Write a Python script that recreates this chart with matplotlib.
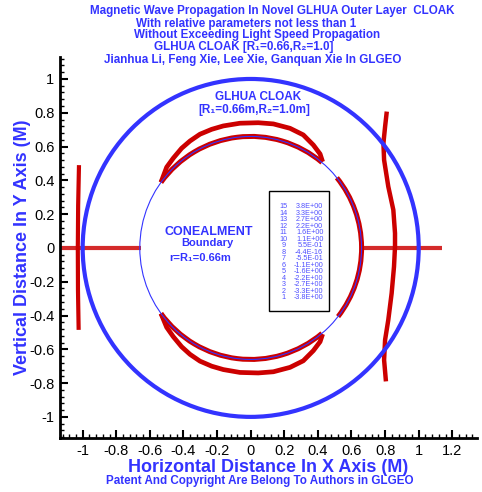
import numpy as np
import matplotlib
matplotlib.use("Agg")
import matplotlib.pyplot as plt
from matplotlib.patches import Arc, Rectangle, Circle
from matplotlib.ticker import MultipleLocator

plt.rcParams['font.family'] = ['Liberation Sans', 'DejaVu Sans']

# geometry of the cloak (m)
R1 = 0.66
R2 = 1.0

# red wave-front pieces lying on the inner boundary (degrees)
arc_starts = [50, 216, -38]
arc_ends = [144, 310, 39]

# bulging wave fronts above / below the concealment
top_bulge_x = [-0.534, -0.500, -0.461, -0.411, -0.361, -0.302, -0.232, -0.163,
               -0.064, 0.045, 0.135, 0.234, 0.313, 0.373, 0.413, 0.428]
top_bulge_y = [0.388, 0.478, 0.531, 0.590, 0.633, 0.673, 0.702, 0.722,
               0.738, 0.741, 0.734, 0.708, 0.669, 0.609, 0.556, 0.510]
bot_bulge_x = [-0.534, -0.500, -0.461, -0.411, -0.361, -0.302, -0.232, -0.163,
               -0.064, 0.045, 0.135, 0.234, 0.313, 0.373, 0.413, 0.428]
bot_bulge_y = [-0.388, -0.470, -0.525, -0.585, -0.630, -0.670, -0.700, -0.720,
               -0.737, -0.740, -0.733, -0.707, -0.668, -0.608, -0.555, -0.510]

# front outside the cloak on the right
right_wave_x = [0.810, 0.800, 0.790, 0.794, 0.819, 0.849, 0.859, 0.859,
                0.853, 0.839, 0.819, 0.800, 0.794, 0.805]
right_wave_y = [0.807, 0.718, 0.620, 0.521, 0.363, 0.225, 0.087, 0.008,
                -0.111, -0.268, -0.426, -0.544, -0.663, -0.79]

# incoming front on the left
left_wave_x = [-1.022, -1.027, -1.029, -1.028, -1.024]
left_wave_y = [0.49, 0.25, 0.0, -0.25, -0.485]

# horizontal rays along y = 0
left_ray_x = [-1.135, -0.65]
right_ray_x = [0.67, 1.14]

# contour legend
levels = list(range(15, 0, -1))
level_vals = ['3.8E+00', '3.3E+00', '2.7E+00', '2.2E+00', '1.6E+00', '1.1E+00',
              '5.5E-01', '-4.4E-16', '-5.5E-01', '-1.1E+00', '-1.6E+00',
              '-2.2E+00', '-2.7E+00', '-3.3E+00', '-3.8E+00']

xticks = [-1, -0.8, -0.6, -0.4, -0.2, 0, 0.2, 0.4, 0.6, 0.8, 1, 1.2]
yticks = [-1, -0.8, -0.6, -0.4, -0.2, 0, 0.2, 0.4, 0.6, 0.8, 1]

title_lines = [
    "Magnetic Wave Propagation In Novel GLHUA Outer Layer  CLOAK",
    "With relative parameters not less than 1",
    "Without Exceeding Light Speed Propagation",
    "GLHUA CLOAK [R\u2081=0.66,R\u2082=1.0]",
    "Jianhua Li, Feng Xie, Lee Xie, Ganquan Xie In GLGEO",
]
# baseline positions in pixels
title_pos = [(272, 14), (246, 26.5), (257, 38), (244, 50), (253, 62.5)]

BLUE = '#3333ff'
RED = '#cc0000'
W, H = 482, 492

fig = plt.figure(figsize=(W / 100, H / 100), dpi=100)
ax = fig.add_axes([60 / W, 1 - 438 / H, 417 / W, 381 / H])
ax.set_xlim(-1.135, 1.347)
ax.set_ylim(-1.125, 1.13)

# rays and fronts
ax.plot(left_ray_x, [0, 0], color='#d42a2a', lw=3.0, solid_capstyle='butt', zorder=2)
ax.plot(right_ray_x, [0, 0], color='#d42a2a', lw=3.0, solid_capstyle='butt', zorder=2)
ax.plot(left_wave_x, left_wave_y, color=RED, lw=3.0, solid_capstyle='butt', zorder=3)
ax.plot(right_wave_x, right_wave_y, color=RED, lw=3.2, solid_capstyle='butt',
        solid_joinstyle='round', zorder=3)
ax.plot(top_bulge_x, top_bulge_y, color=RED, lw=3.4, solid_capstyle='butt',
        solid_joinstyle='round', zorder=3)
ax.plot(bot_bulge_x, bot_bulge_y, color=RED, lw=3.4, solid_capstyle='butt',
        solid_joinstyle='round', zorder=3)
for t1, t2 in zip(arc_starts, arc_ends):
    ax.add_patch(Arc((0, 0), 2 * R1, 2 * R1, theta1=t1, theta2=t2,
                     color=RED, lw=3.6, zorder=3))

# cloak boundaries
ax.add_patch(Circle((0, 0), R2, fill=False, ec=BLUE, lw=3.0, zorder=4))
ax.add_patch(Circle((0, 0), R1, fill=False, ec=BLUE, lw=0.8, zorder=4))

# legend box
bx, by, bw, bh = 0.109, -0.373, 0.357, 0.71
ax.add_patch(Rectangle((bx + 0.008, by - 0.008), bw, bh, fc='#999999', ec='none', zorder=5))
ax.add_patch(Rectangle((bx, by), bw, bh, fc='white', ec='black', lw=1.0, zorder=6))
ytop, ybot = 0.245, -0.295
for i, (lv, val) in enumerate(zip(levels, level_vals)):
    yy = ytop - i * (ytop - ybot) / 14
    ax.text(0.195, yy, str(lv), ha='center', va='center', fontsize=5.2,
            color='#5050ff', zorder=7)
    ax.text(0.432, yy, val, ha='right', va='center', fontsize=5.2,
            color='#5050ff', zorder=7)

# annotations inside
ax.text(0.045, 0.895, "GLHUA CLOAK", ha='center', va='center', fontsize=8.5,
        fontweight='bold', color=BLUE)
ax.text(0.022, 0.815, "[R\u2081=0.66m,R\u2082=1.0m]", ha='center', va='center',
        fontsize=8.5, fontweight='bold', color=BLUE)
ax.text(-0.252, 0.097, "CONEALMENT", ha='center', va='center', fontsize=9,
        fontweight='bold', color=BLUE)
ax.text(-0.256, 0.028, "Boundary", ha='center', va='center', fontsize=8,
        fontweight='bold', color=BLUE)
ax.text(-0.298, -0.075, "r=R\u2081=0.66m", ha='center', va='baseline', fontsize=8,
        fontweight='bold', color=BLUE)

# axes styling
for s in ['top', 'right']:
    ax.spines[s].set_visible(False)
for s in ['left', 'bottom']:
    ax.spines[s].set_linewidth(2.0)
ax.set_xticks(xticks)
ax.set_xticklabels(['0' if v == 0 else f'{v:g}' for v in xticks])
ax.set_yticks(yticks)
ax.set_yticklabels(['0' if v == 0 else f'{v:g}' for v in yticks])
ax.xaxis.set_minor_locator(MultipleLocator(0.04))
ax.yaxis.set_minor_locator(MultipleLocator(0.04))
ax.tick_params(which='major', direction='in', length=6, width=1.5, labelsize=10.5, pad=4)
ax.tick_params(which='minor', direction='in', length=3, width=1.0)

ax.set_xlabel("Horizontal Distance In X Axis (M)", fontsize=13, fontweight='bold',
              color=BLUE, labelpad=1)
ax.set_ylabel("Vertical Distance In Y Axis (M)", fontsize=13, fontweight='bold',
              color=BLUE, labelpad=-1)

for line, (px, py) in zip(title_lines, title_pos):
    fig.text(px / W, 1 - py / H, line, ha='center', va='baseline', fontsize=8.4,
             fontweight='bold', color=BLUE)
fig.text(260 / W, 1 - 481 / H, "Patent And Copyright Are Belong To Authors in GLGEO",
         ha='center', va='center', fontsize=8.4, fontweight='bold', color=BLUE)

fig.savefig('out.png', dpi=100)
